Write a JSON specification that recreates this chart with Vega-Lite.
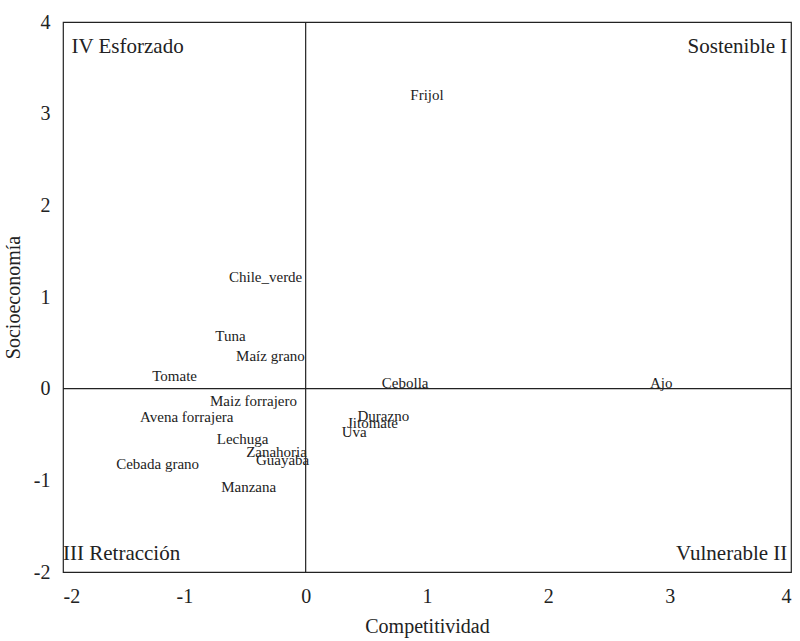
{
  "$schema": "https://vega.github.io/schema/vega-lite/v6.json",
  "autosize": "none",
  "width": 728,
  "height": 550,
  "padding": {"left": 63, "top": 22, "right": 9, "bottom": 69},
  "background": "white",
  "config": {
    "view": {"stroke": "#222", "strokeWidth": 1.2},
    "font": "Liberation Serif",
    "axis": {
      "grid": false, "domain": false, "ticks": false, "tickSize": 0,
      "labelFont": "Liberation Serif", "titleFont": "Liberation Serif",
      "labelFontSize": 20, "titleFontSize": 20, "labelColor": "#222", "titleColor": "#222",
      "titleFontWeight": "normal", "labelExpr": "datum.value + ''"
    }
  },
  "datasets": {
    "crops": [
      {"cultivo": "Frijol", "comp": 1.0, "socio": 3.2},
      {"cultivo": "Chile_verde", "comp": -0.33, "socio": 1.22},
      {"cultivo": "Tuna", "comp": -0.62, "socio": 0.58},
      {"cultivo": "Maíz grano", "comp": -0.29, "socio": 0.36},
      {"cultivo": "Tomate", "comp": -1.08, "socio": 0.14},
      {"cultivo": "Maiz forrajero", "comp": -0.43, "socio": -0.13},
      {"cultivo": "Avena forrajera", "comp": -0.98, "socio": -0.31},
      {"cultivo": "Lechuga", "comp": -0.52, "socio": -0.55},
      {"cultivo": "Zanahoria", "comp": -0.24, "socio": -0.69},
      {"cultivo": "Guayaba", "comp": -0.19, "socio": -0.78},
      {"cultivo": "Cebada grano", "comp": -1.22, "socio": -0.82},
      {"cultivo": "Manzana", "comp": -0.47, "socio": -1.07},
      {"cultivo": "Cebolla", "comp": 0.82, "socio": 0.06},
      {"cultivo": "Ajo", "comp": 2.93, "socio": 0.06},
      {"cultivo": "Durazno", "comp": 0.64, "socio": -0.3},
      {"cultivo": "Jitomate", "comp": 0.55, "socio": -0.37},
      {"cultivo": "Uva", "comp": 0.4, "socio": -0.47}
    ],
    "quadL": [
      {"label": "IV Esforzado", "comp": -1.93, "socio": 3.73},
      {"label": "III Retracción", "comp": -2.0, "socio": -1.8}
    ],
    "quadR": [
      {"label": "Sostenible I", "comp": 3.97, "socio": 3.73},
      {"label": "Vulnerable II", "comp": 3.97, "socio": -1.8}
    ],
    "ref": [{"zero": 0}]
  },
  "layer": [
    {
      "data": {"name": "ref"},
      "mark": {"type": "rule", "color": "#222", "strokeWidth": 1.2},
      "encoding": {"x": {"field": "zero", "type": "quantitative", "scale": {"domain": [-2, 4], "nice": false}}}
    },
    {
      "data": {"name": "ref"},
      "mark": {"type": "rule", "color": "#222", "strokeWidth": 1.2},
      "encoding": {"y": {"field": "zero", "type": "quantitative", "scale": {"domain": [-2, 4], "nice": false}}}
    },
    {
      "data": {"name": "crops"},
      "mark": {"type": "text", "fontSize": 15, "color": "#222", "font": "Liberation Serif", "baseline": "middle", "align": "center"},
      "encoding": {
        "x": {"field": "comp", "type": "quantitative", "scale": {"domain": [-2, 4], "nice": false},
              "axis": {"values": [-2, -1, 0, 1, 2, 3, 4], "title": "Competitividad", "labelPadding": 14, "titlePadding": 10}},
        "y": {"field": "socio", "type": "quantitative", "scale": {"domain": [-2, 4], "nice": false},
              "axis": {"values": [-2, -1, 0, 1, 2, 3, 4], "title": "Socioeconomía", "labelPadding": 13, "titlePadding": 10}},
        "text": {"field": "cultivo"}
      }
    },
    {
      "data": {"name": "quadL"},
      "mark": {"type": "text", "fontSize": 21, "color": "#222", "font": "Liberation Serif", "baseline": "middle", "align": "left"},
      "encoding": {
        "x": {"field": "comp", "type": "quantitative"},
        "y": {"field": "socio", "type": "quantitative"},
        "text": {"field": "label"}
      }
    },
    {
      "data": {"name": "quadR"},
      "mark": {"type": "text", "fontSize": 21, "color": "#222", "font": "Liberation Serif", "baseline": "middle", "align": "right"},
      "encoding": {
        "x": {"field": "comp", "type": "quantitative"},
        "y": {"field": "socio", "type": "quantitative"},
        "text": {"field": "label"}
      }
    }
  ]
}
